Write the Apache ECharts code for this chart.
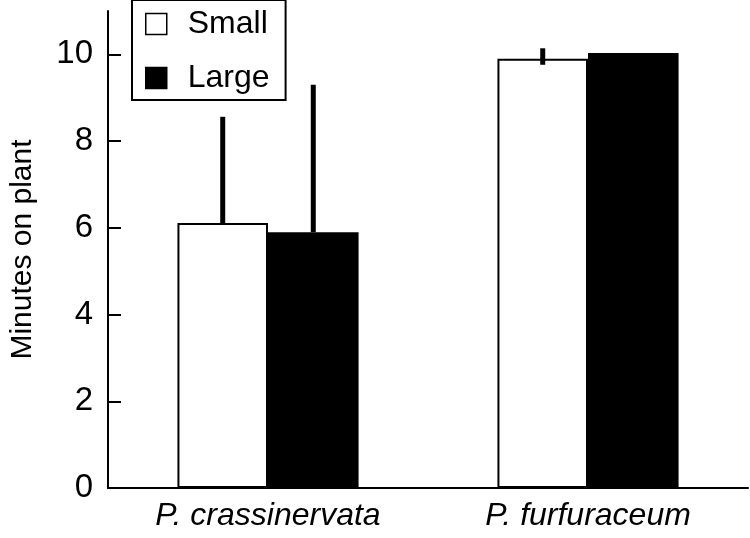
<!DOCTYPE html>
<html>
<head>
<meta charset="utf-8">
<script src="https://cdn.jsdelivr.net/npm/echarts@6/dist/echarts.min.js"></script>
<style>
html,body{margin:0;padding:0;background:#fff;}
#chart{width:750px;height:538px;}
</style>
</head>
<body>
<div id="chart"></div>
<script>
const categories = ['P. crassinervata', 'P. furfuraceum'];
const seriesNames = ['Small', 'Large'];
const smallMeans = [6.11, 9.90];
const largeMeans = [5.90, 10.03];
const smallErrUp = [2.45, 0.24];
const smallErrDown = [0, 0.14];
const largeErrUp = [3.40, 0];
const largeErrDown = [0, 0];
const yTicks = [0, 2, 4, 6, 8, 10];

const FONT = 'Liberation Sans';
const chart = echarts.init(document.getElementById('chart'), null, {renderer: 'canvas'});

const errData = [];
categories.forEach((c, i) => {
  errData.push([i, -1, smallMeans[i] - smallErrDown[i], smallMeans[i] + smallErrUp[i]]);
  errData.push([i, 1, largeMeans[i] - largeErrDown[i], largeMeans[i] + largeErrUp[i]]);
});

const barFrac = 0.283;

function renderErr(params, api) {
  const ci = api.value(0);
  const side = api.value(1);
  const lo = api.value(2);
  const hi = api.value(3);
  if (hi - lo <= 0) return null;
  const catW = api.size([1, 0])[0];
  const p1 = api.coord([ci, lo]);
  const p2 = api.coord([ci, hi]);
  const x = p1[0] + side * catW * barFrac / 2;
  return {
    type: 'line',
    shape: {x1: x, y1: p1[1], x2: x, y2: p2[1]},
    style: {stroke: '#000', lineWidth: 5}
  };
}

chart.setOption({
  animation: false,
  backgroundColor: '#fff',
  textStyle: {fontFamily: FONT, color: '#000'},
  grid: {left: 102, right: 2, top: 11, bottom: 50, containLabel: false},
  legend: {
    orient: 'vertical',
    left: 132,
    top: 0,
    padding: [8, 16, 6, 13],
    itemGap: 22,
    itemWidth: 21,
    itemHeight: 21,
    borderColor: '#000',
    borderWidth: 2,
    backgroundColor: '#fff',
    icon: 'rect',
    textStyle: {fontFamily: FONT, fontSize: 32, color: '#000', lineHeight: 22, padding: [0, 0, 0, 16]},
    data: [
      {name: 'Small', itemStyle: {color: '#fff', borderColor: '#000', borderWidth: 1.5}},
      {name: 'Large', itemStyle: {color: '#000', borderColor: '#000', borderWidth: 1.5}}
    ]
  },
  xAxis: {
    type: 'category',
    data: categories,
    boundaryGap: true,
    axisLine: {lineStyle: {color: '#000', width: 2}},
    axisTick: {inside: true, length: 14, lineStyle: {color: '#000', width: 2}},
    axisLabel: {fontFamily: FONT, fontSize: 32, fontStyle: 'italic', color: '#000', margin: 12}
  },
  yAxis: {
    type: 'value',
    min: 0,
    max: 11,
    interval: 2,
    name: 'Minutes on plant',
    nameLocation: 'middle',
    nameGap: 70,
    nameTextStyle: {fontFamily: FONT, fontSize: 30, color: '#000'},
    splitLine: {show: false},
    axisLine: {show: true, lineStyle: {color: '#000', width: 2}},
    axisTick: {show: true, inside: true, length: 13, customValues: yTicks, lineStyle: {color: '#000', width: 2}},
    axisLabel: {fontFamily: FONT, fontSize: 33, color: '#000', margin: 15, customValues: yTicks}
  },
  series: [
    {
      name: seriesNames[0],
      type: 'bar',
      data: smallMeans,
      barWidth: (barFrac * 100) + '%',
      barGap: '0%',
      itemStyle: {color: '#fff', borderColor: '#000', borderWidth: 2},
      z: 2
    },
    {
      name: seriesNames[1],
      type: 'bar',
      data: largeMeans,
      barWidth: (barFrac * 100) + '%',
      barGap: '0%',
      itemStyle: {color: '#000', borderColor: '#000', borderWidth: 2},
      z: 2
    },
    {
      type: 'custom',
      renderItem: renderErr,
      data: errData,
      encode: {x: 0, y: [2, 3]},
      z: 5,
      silent: true
    }
  ]
});
</script>
</body>
</html>
